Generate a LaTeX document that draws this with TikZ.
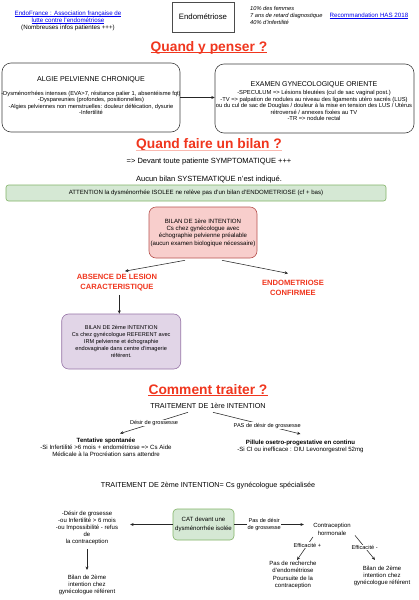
\documentclass[tikz,border=0pt]{standalone}
\usepackage{fontspec}
\setmainfont{Liberation Sans}
\usetikzlibrary{arrows.meta}
\definecolor{tred}{HTML}{F0361E}
\definecolor{linkblue}{HTML}{0000EE}
\definecolor{pinkf}{HTML}{F8CECC}\definecolor{pinkd}{HTML}{B85450}
\definecolor{purf}{HTML}{E1D5E7}\definecolor{purd}{HTML}{9673A6}
\definecolor{grf}{HTML}{D5E8D4}\definecolor{grd}{HTML}{82B366}
\newcommand{\fs}[2]{\fontsize{#1}{#2}\selectfont}
\newcommand{\myul}[1]{\setbox0\hbox{#1}\rlap{\rule[-1.1pt]{\wd0}{0.35pt}}\box0}
\begin{document}
\begin{tikzpicture}[x=1pt,y=-1pt,
  txt/.style={inner sep=0pt, align=center, font=\fs{6.1}{7}},
  ttl/.style={inner sep=0pt, text=tred, font=\fs{13.8}{16}\bfseries},
  redlbl/.style={inner sep=0pt, align=center, text=tred, font=\fs{7.6}{9.5}\bfseries},
  link/.style={inner sep=0pt, align=center, text=linkblue, font=\fs{6.2}{7.1}},
  box/.style={draw=black!75, line width=0.6pt, rounded corners=9pt, inner sep=0pt},
  arr/.style={draw=black!85, line width=0.55pt, -{Stealth[length=3.4pt,width=3pt]}},
  lbl/.style={fill=white, inner sep=0.6pt, align=center, font=\fs{5.6}{7.3}}]
\useasboundingbox[fill=white] (0,0) rectangle (418,600);

% ---- header
\node[link] (ef) at (68,21) {\myul{EndoFrance : Association française de}\\\myul{lutte contre l'endométriose}\\{\color{black}(Nombreuses infos patientes +++)}};
\node[draw=black!70, line width=0.6pt, minimum width=62, minimum height=30, inner sep=0pt, font=\fs{7.8}{9}] (endo) at (203,17) {Endométriose};
\node[anchor=west, align=left, inner sep=0pt, font=\fs{5.7}{7.4}\itshape] (stat) at (250,15.5) {10\% des femmes\\7 ans de retard diagnostique\\40\% d'infertilité};
\node[link] (has) at (369,16) {\myul{Recommandation HAS 2018}};

% ---- Quand y penser
\node[ttl, anchor=base] (t1) at (209,51) {Quand y penser ?};
\draw[tred, line width=0.7pt] ([yshift=-1.6pt]t1.base west) -- ([yshift=-1.6pt]t1.base east);

\node[box, minimum width=178, minimum height=69] (algie) at (91,97.5) {};
\node[txt, font=\fs{7.1}{8}] (algieT) at (91,80) {ALGIE PELVIENNE CHRONIQUE};
\node[txt, font=\fs{5.75}{6.4}] (algieL) at (91,103) {-Dysménorrhées intenses (EVA>7, résitance palier 1, absentéisme fqt)\\-Dyspareunies (profondes, positionnelles)\\-Algies pelviennes non menstruelles: douleur défécation, dysurie\\-Infertilité};

\node[box, minimum width=199, minimum height=69] (exam) at (314.5,98.5) {};
\node[txt, font=\fs{7}{8}] (examT) at (314,85) {EXAMEN GYNECOLOGIQUE ORIENTE};
\node[txt, font=\fs{5.8}{6.4}] (examL) at (314,105.5) {-SPECULUM => Lésions bleutées (cul de sac vaginal post.)\\-TV => palpation de nodules au niveau des ligaments utéro sacrés (LUS)\\ou du cul de sac de Douglas / douleur à la mise en tension des LUS / Utérus\\rétroversé / annexes fixées au TV\\-TR => nodule rectal};
\draw[arr] (algie.east) -- (algie.east -| exam.west);

% ---- Quand faire un bilan
\node[ttl, anchor=base] (t2) at (209,148.5) {Quand faire un bilan ?};
\draw[tred!35, line width=0.7pt] ([yshift=-1.6pt]t2.base west) -- ([yshift=-1.6pt]t2.base east);
\node[txt, font=\fs{7.5}{8}] (dev) at (209,162) {=> Devant toute patiente SYMPTOMATIQUE +++};
\node[txt, font=\fs{7.5}{8}] (auc) at (209,180) {Aucun bilan SYSTEMATIQUE n'est indiqué.};
\node[draw=grd, fill=grf, line width=0.6pt, rounded corners=2.5pt, minimum width=380, minimum height=16, inner sep=0pt, font=\fs{6.1}{7}] (att) at (196,193) {ATTENTION la dysménorrhée ISOLEE ne relève pas d'un bilan d'ENDOMETRIOSE (cf + bas)};

\node[draw=pinkd, fill=pinkf, line width=0.6pt, rounded corners=7pt, minimum width=108, minimum height=51, txt, font=\fs{6.1}{7.3}] (b1) at (203,232.5) {BILAN DE 1ère INTENTION\\Cs chez gynécologue avec\\échographie pelvienne préalable\\(aucun examen biologique nécessaire)};
\node[redlbl] (abs) at (117,282.5) {ABSENCE DE LESION\\CARACTERISTIQUE};
\node[redlbl] (conf) at (293,288) {ENDOMETRIOSE\\CONFIRMEE};
\draw[arr] ([xshift=-18pt,yshift=-2pt]b1.south) -- ([xshift=8pt,yshift=3pt]abs.north);
\draw[arr] ([xshift=19pt,yshift=-2pt]b1.south) -- ([xshift=-5pt,yshift=7pt]conf.north);

\node[draw=purd, fill=purf, line width=0.6pt, rounded corners=7pt, minimum width=119, minimum height=55, txt, font=\fs{5.6}{7}] (pur) at (121.2,341.5) {BILAN DE 2ème INTENTION\\Cs chez gynécologue REFERENT avec\\IRM pelvienne et échographie\\endovaginale dans centre d'imagerie\\référent.};
\draw[arr] ([xshift=2.3pt,yshift=-4pt]abs.south) -- ([xshift=-1.9pt]pur.north);

% ---- Comment traiter
\node[ttl, anchor=base] (t3) at (208,394) {Comment traiter ?};
\draw[tred, line width=0.7pt] ([yshift=-1.6pt]t3.base west) -- ([yshift=-1.6pt]t3.base east);
\node[txt, font=\fs{7.2}{8}] (tr1) at (208,406) {TRAITEMENT DE 1ère INTENTION};
\node[txt] (tent) at (106,447) {\textbf{Tentative spontanée}\\-Si Infertilité >6 mois + endométriose => Cs Aide\\Médicale à la Procréation sans attendre};
\node[txt] (pil) at (300.5,446.5) {\textbf{Pillule osetro-progestative en continu}\\-Si CI ou inefficace : DIU Levonorgestrel 52mg};
\draw[arr] ([xshift=-20pt,yshift=-3.4pt]tr1.south) -- node[lbl, pos=0.5] {Désir de grossesse} ([xshift=14pt,yshift=4pt]tent.north);
\draw[arr] ([xshift=5pt,yshift=-3.4pt]tr1.south) -- node[lbl, pos=0.62] {PAS de désir de grossesse} ([yshift=6pt]pil.north);

\node[txt, font=\fs{7.2}{8}] (tr2) at (208,486) {TRAITEMENT DE 2ème INTENTION= Cs gynécologue spécialisée};

\node[draw=grd, fill=grf, line width=0.6pt, rounded corners=4pt, minimum width=61, minimum height=31, txt, font=\fs{6.1}{8.3}] (cat) at (203.5,524.5) {CAT devant une\\dysménorrhée isolée};
\node[txt, font=\fs{6}{7}, minimum width=86] (lt) at (87,528) {-Désir de grosesse\\-ou Infertilité > 6 mois\\-ou Impossibilité - refus\\de\\la contraception};
\draw[arr] (cat.west) -- (cat.west -| lt.east);
\node[txt, font=\fs{6}{7}] (bl) at (87,585) {Bilan de 2ème\\intention chez\\gynécologue référent};
\draw[arr] ([yshift=-4pt]lt.south) -- ([yshift=5pt]bl.north);

\node[txt, font=\fs{6}{8}, minimum width=56] (contra) at (332,529) {Contraception\\hormonale};
\draw[arr] (cat.east) -- node[lbl, pos=0.43] {Pas de désir\\de grossesse} (cat.east -| contra.west);
\node[txt, font=\fs{6}{7.3}] (pr) at (293,575) {Pas de recherche\\d'endométriose\\Poursuite de la\\contraception};
\node[txt, font=\fs{6}{7}] (br) at (382,576) {Bilan de 2ème\\intention chez\\gynécologue référent};
\draw[arr] ([xshift=-19pt,yshift=-1.5pt]contra.south) -- node[lbl, pos=0.35] {Efficacité +} ([xshift=4pt,yshift=1pt]pr.north);
\draw[arr] ([xshift=23pt,yshift=0pt]contra.south) -- node[lbl, pos=0.48] {Efficacité -} ([xshift=-7pt,yshift=6pt]br.north);
\end{tikzpicture}
\end{document}
